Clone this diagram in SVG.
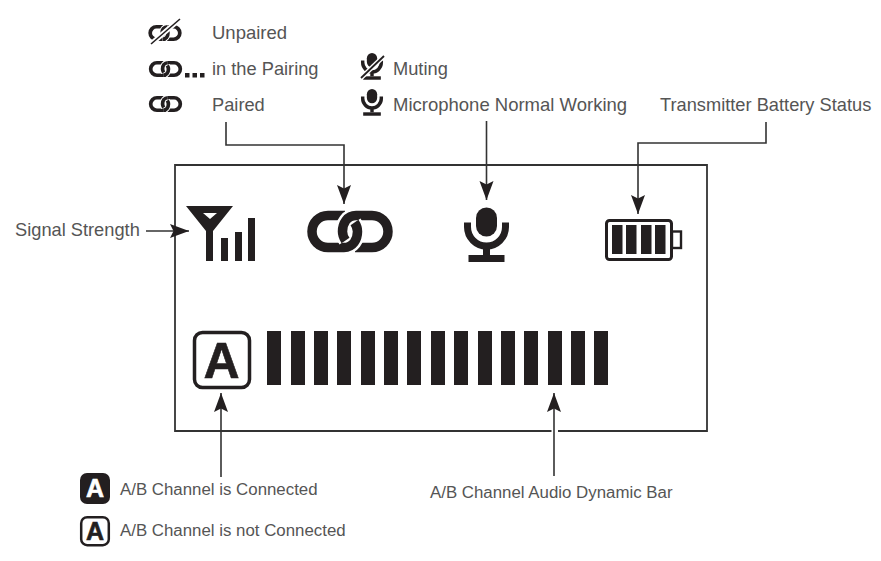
<svg xmlns="http://www.w3.org/2000/svg" width="881" height="561" viewBox="0 0 881 561">
<style>
text{font-family:"Liberation Sans",Arial,sans-serif;fill:#555;font-size:18.5px}
.m{font-size:18.25px}
.s{font-size:16.85px}
.k{fill:#231f20}
.conn{fill:none;stroke:#333;stroke-width:1.6}
.letter{font-weight:700;fill:#231f20;text-anchor:middle;stroke:#231f20;stroke-width:.6}
</style>
<defs>
<marker id="arr" markerUnits="userSpaceOnUse" markerWidth="20" markerHeight="16" refX="19" refY="8" orient="auto"><path d="M19,8 L0,1 L3.500,8 L0,15Z" fill="#231f20"/></marker>
<g id="link" fill="none">
<path d="M-5,-16H-22A16,16 0 0 0 -22,16H-6M5,16H22A16,16 0 0 0 22,-16H6" stroke="#231f20" stroke-width="9.500"/>
<path d="M-6,16C3,16 7.500,8 7.500,0C7.500,-3 6.500,-6 4.500,-9M6,-16C-3,-16 -7.500,-8 -7.500,0C-7.500,3 -6.500,6 -4.500,9" stroke="#fff" stroke-width="14.500"/>
<path d="M-6,16C3,16 7.500,8 7.500,0C7.500,-3 6.500,-6 4.500,-9M6,-16C-3,-16 -7.500,-8 -7.500,0C-7.500,3 -6.500,6 -4.500,9" stroke="#231f20" stroke-width="9.500"/>
</g>
<g id="mic">
<rect x="-10.500" y="-27.500" width="21" height="29" rx="10.500" fill="#231f20"/>
<path d="M-19,-12.500V-8A19,19 0 0 0 19,-8V-12.500" fill="none" stroke="#231f20" stroke-width="7"/>
<rect x="-3.500" y="10" width="7" height="10" fill="#231f20"/>
<rect x="-18" y="20" width="36" height="7" fill="#231f20"/>
</g>
</defs>
<rect width="881" height="561" fill="#fff"/>
<g id="frame"><path d="M551.500,431H175V165H707V431H558" fill="none" stroke="#333" stroke-width="1.800"/></g>
<g id="connectors" class="conn">
<path d="M226,122V145H344V204" marker-end="url(#arr)"/>
<path d="M486.500,121V200" marker-end="url(#arr)"/>
<path d="M766,122V143H638V214" marker-end="url(#arr)"/>
<path d="M146,231H189" marker-end="url(#arr)"/>
<path d="M221,477V393" marker-end="url(#arr)"/>
<path d="M554,476V393" marker-end="url(#arr)"/>
</g>
<g id="legend-unpaired">
<use href="#link" transform="translate(165,33) scale(.39)"/>
<path d="M151,44L180,19" stroke="#fff" stroke-width="5"/>
<path d="M151,44L180,19" stroke="#231f20" stroke-width="1.600"/>
<text x="212" y="39">Unpaired</text>
</g>
<g id="legend-pairing">
<use href="#link" transform="translate(165.500,69) scale(.39)"/>
<rect class="k" x="185" y="73" width="4.500" height="4.500"/><rect class="k" x="192.500" y="73" width="4.500" height="4.500"/><rect class="k" x="200" y="73" width="4.500" height="4.500"/>
<text class="m" x="212" y="75">in the Pairing</text>
</g>
<g id="legend-paired">
<use href="#link" transform="translate(165.500,104) scale(.39)"/>
<text class="m" x="212" y="111">Paired</text>
</g>
<g id="legend-muting">
<use href="#mic" transform="translate(372,66.500) scale(.49)"/>
<path d="M361,78L384,56" stroke="#fff" stroke-width="4.500"/>
<path d="M361,78L384,56" stroke="#231f20" stroke-width="1.800"/>
<text class="m" x="393" y="75">Muting</text>
</g>
<g id="legend-mic">
<use href="#mic" transform="translate(372,102.500) scale(.49)"/>
<text x="393" y="111">Microphone Normal Working</text>
</g>
<g id="label-battery"><text class="m" x="660" y="111">Transmitter Battery Status</text></g>
<g id="label-signal"><text class="m" x="15" y="236">Signal Strength</text></g>
<g id="signal-icon">
<path class="k" fill-rule="evenodd" d="M186,206H233L213,231V261H206V231ZM203,213L210,219L217,213Z"/>
<rect class="k" x="221" y="238" width="7" height="23"/><rect class="k" x="235" y="232" width="7" height="29"/><rect class="k" x="248" y="218" width="7" height="43"/>
</g>
<g id="link-icon"><use href="#link" transform="translate(350,231.500)"/></g>
<g id="mic-icon"><use href="#mic" transform="translate(486.500,235)"/></g>
<g id="battery-icon">
<rect x="606.500" y="220.500" width="65" height="39" rx="3" fill="#fff" stroke="#231f20" stroke-width="3"/>
<rect x="672" y="231.500" width="9" height="16.500" fill="#fff" stroke="#231f20" stroke-width="2.400"/>
<rect class="k" x="612" y="225" width="10.500" height="29"/><rect class="k" x="626" y="225" width="10.500" height="29"/><rect class="k" x="641" y="225" width="10.500" height="29"/><rect class="k" x="655" y="225" width="10.500" height="29"/>
</g>
<g id="channel-icon">
<rect x="194.500" y="332.500" width="55" height="55" rx="8" fill="#fff" stroke="#231f20" stroke-width="3.500"/>
<text class="letter" x="221.500" y="378" style="font-size:50px">A</text>
</g>
<g id="audio-bar" class="k">
<rect x="267" y="331" width="14" height="54"/><rect x="291" y="331" width="14" height="54"/><rect x="314" y="331" width="14" height="54"/><rect x="337" y="331" width="14" height="54"/><rect x="361" y="331" width="14" height="54"/><rect x="384" y="331" width="14" height="54"/><rect x="407" y="331" width="14" height="54"/><rect x="431" y="331" width="14" height="54"/><rect x="454" y="331" width="14" height="54"/><rect x="478" y="331" width="14" height="54"/><rect x="501" y="331" width="14" height="54"/><rect x="524" y="331" width="14" height="54"/><rect x="548" y="331" width="14" height="54"/><rect x="571" y="331" width="14" height="54"/><rect x="594" y="331" width="14" height="54"/>
</g>
<g id="legend-connected">
<rect class="k" x="80" y="473" width="30" height="31" rx="7"/>
<text class="letter" x="95" y="497" style="font-size:25px;fill:#fff;stroke:#fff">A</text>
<text class="s" x="120" y="495">A/B Channel is Connected</text>
</g>
<g id="legend-not-connected">
<rect x="81.200" y="517.200" width="27.600" height="28" rx="6" fill="#fff" stroke="#231f20" stroke-width="2.500"/>
<text class="letter" x="95" y="540" style="font-size:25px">A</text>
<text class="s" x="120" y="536">A/B Channel is not Connected</text>
</g>
<g id="label-bar"><text class="s" x="430" y="498">A/B Channel Audio Dynamic Bar</text></g>
</svg>
